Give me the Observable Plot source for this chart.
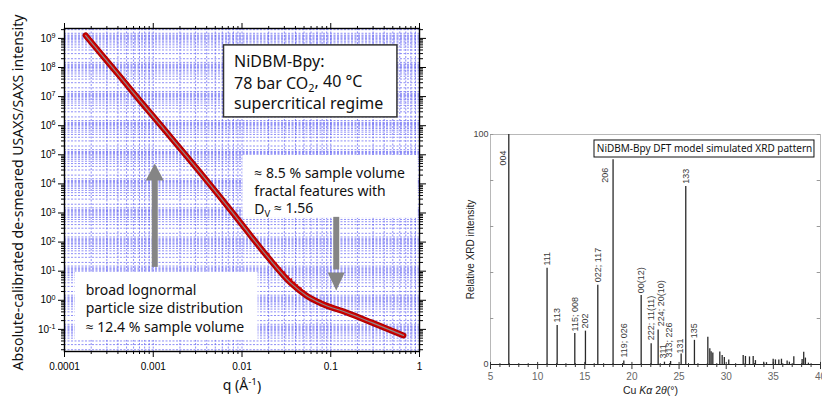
<!DOCTYPE html>
<html><head><meta charset="utf-8">
<script src="https://cdn.jsdelivr.net/npm/d3@7"></script>
<script src="https://cdn.jsdelivr.net/npm/@observablehq/plot@0.6"></script>
<style>
html,body{margin:0;padding:0;background:#fff;}
#wrap{position:relative;width:822px;height:398px;overflow:hidden;background:#fff;}
#left{position:absolute;left:0;top:0;}
#right{position:absolute;left:440px;top:0;}
</style></head><body>
<div id="wrap"><div id="left"></div><div id="right"></div></div>
<script>
// ---------- Left panel: USAXS/SAXS curve ----------
const qValues = [1.73e-4, 2.55e-4, 4.3e-4, 7.2e-4, 1.22e-3, 2.05e-3, 3.44e-3, 5.36e-3, 9.75e-3, 0.0197, 0.0358, 0.0529, 0.0781, 0.150, 0.287, 0.659];
const intensityValues = [1.27e9, 3.05e8, 4.57e7, 6.8e6, 1.02e6, 1.53e5, 2.3e4, 4.35e3, 440, 29.8, 3.81, 1.47, 0.78, 0.38, 0.174, 0.062];
// scatter / error bars in the noisy region
const errQ = [0.020, 0.024, 0.027, 0.030, 0.033, 0.036, 0.039, 0.042, 0.046, 0.050];
const errLow = [22, 11, 7.5, 5, 3.8, 3, 2.4, 2.0, 1.6, 1.35];
const errHigh = [40, 20, 13, 9.5, 6.8, 5.5, 4.2, 3.4, 2.7, 2.1];
const xMajorTicks = [1e-4, 1e-3, 1e-2, 1e-1, 1];
const xTickLabels = ["0.0001", "0.001", "0.01", "0.1", "1"];
const yMajorTicks = [1e-1, 1e0, 1e1, 1e2, 1e3, 1e4, 1e5, 1e6, 1e7, 1e8, 1e9];

// annotation boxes (data coordinates)
const box1 = {x1: 0.00627, x2: 0.564, y1: 1.93e6, y2: 5.75e8};
const box2 = {x1: 0.01026, x2: 0.965, y1: 652, y2: 9.5e4};
const box3 = {x1: 1.33e-4, x2: 0.01517, y1: 0.0419, y2: 9.1};
const box1Lines = ["NiDBM-Bpy:", "78 bar CO_2, 40 °C", "supercritical regime"];
const box1Y = [1.53e8, 2.77e7, 5.7e6];
const box2Lines = ["≈ 8.5 % sample volume", "fractal features with", "D_V ≈ 1.56"];
const box2Y = [2.24e4, 5.52e3, 1.3e3];
const box3Lines = ["broad lognormal", "particle size distribution", "≈ 12.4 % sample volume"];
const box3Y = [2.19, 0.514, 0.12];
const arrowUp = {q: 0.00104, from: 13.5, to: 1.6e4, tip: 5.06e4};
const arrowDown = {q: 0.1153, from: 708, to: 11, tip: 2.19};

// ---------- Right panel: simulated XRD ----------
const peakPos = [6.94, 11.0, 12.07, 13.94, 15.07, 16.38, 18.0, 19.14, 20.98, 22.04, 22.78, 23.45, 24.1, 25.22, 25.71, 26.63, 28.05, 28.26, 28.4, 28.58, 29.32, 29.57, 29.8, 30.27, 31.8, 32.04, 32.47, 32.86, 33.1, 33.98, 34.27, 34.98, 35.22, 35.58, 35.86, 36.46, 36.7, 37.17, 38.05, 38.22, 38.4, 38.72];
const peakHeight = [100, 41.8, 17, 13.5, 14.5, 34.5, 89, 1.5, 30, 9, 15, 1, 1.3, 4.6, 77.4, 10.5, 11.8, 6.8, 5.5, 5, 5.4, 3.9, 3, 2, 3.9, 3.5, 3.3, 3.5, 1.7, 1, 0.8, 2.3, 2, 2, 2.3, 1.5, 1, 3.4, 2.2, 5.3, 2.8, 0.6];
const hklText = ["004", "111", "113", "115; 008", "202", "022; 117", "206", "119; 026", "00(12)", "222; 11(11)", "224; 20(10)", "311", "313; 226", "131", "133", "135"];
const hklX = [6.38, 11.0, 12.07, 14.0, 15.07, 16.38, 17.2, 19.14, 20.98, 22.04, 23.1, 23.32, 23.98, 25.07, 25.75, 26.63];
const hklY = [86.5, 43, 18.3, 14.4, 15.7, 35.8, 79, 3, 31, 10.5, 16.6, 2.6, 3, 4.8, 78.6, 11.4];
const xrdMajorTicks = [5, 10, 15, 20, 25, 30, 35, 40];
const xrdYTicks = [0, 20, 40, 60, 80, 100];
const titleBox = {x1: 16.03, x2: 39.36, y1: 90, y2: 97.4, x: 27.7, y: 93.7, t: "NiDBM-Bpy DFT model simulated XRD pattern"};

// ---------- helpers ----------
const curve = qValues.map((q, i) => ({q, I: intensityValues[i]}));
const errs = errQ.map((q, i) => ({q, lo: errLow[i], hi: errHigh[i]}));
const vGrid = [], xMinor = [];
for (let n = -4; n <= -1; n++) for (let k = 1; k <= 9; k++) {
  const v = k * Math.pow(10, n);
  if (v > 1e-4 && v < 1) vGrid.push(v);
  if (k > 1) xMinor.push(v);
}
const yDomain = [Math.pow(10, -1.76), Math.pow(10, 9.34)];
const hGrid = [], yMinor = [];
for (let n = -2; n <= 9; n++) {
  for (const k of [1, 1.1, 1.2, 1.3, 1.5, 2, 3, 4, 5, 6, 7, 8, 9]) {
    const v = k * Math.pow(10, n);
    if (v > yDomain[0] && v < yDomain[1]) hGrid.push(v);
  }
  for (let k = 2; k <= 9; k++) {
    const v = k * Math.pow(10, n);
    if (v > yDomain[0] && v < yDomain[1]) yMinor.push(v);
  }
}
const upTri = {draw(c) { c.moveTo(0, 0); c.lineTo(-9, 17); c.lineTo(9, 17); c.closePath(); }};
const downTri = {draw(c) { c.moveTo(0, 0); c.lineTo(-8.5, -18); c.lineTo(8.5, -18); c.closePath(); }};
const gridStyle = {stroke: "#5858f2", strokeWidth: 0.8, strokeDasharray: "2,1.5", strokeOpacity: 0.85};
const noteFont = "'Noto Sans', 'Open Sans', sans-serif";
const lines = (arr, ys, x) => arr.map((t, i) => ({t, x, y: ys[i]}));

const left = Plot.plot({
  width: 440, height: 398,
  marginLeft: 64, marginRight: 21, marginTop: 28, marginBottom: 47,
  x: {type: "log", domain: [1e-4, 1]},
  y: {type: "log", domain: yDomain},
  style: {fontFamily: "'Liberation Sans', Arial, sans-serif", fontSize: "10px", background: "transparent", color: "#000"},
  marks: [
    Plot.ruleX(vGrid, {x: d => d, ...gridStyle}),
    Plot.ruleY(hGrid, {y: d => d, ...gridStyle}),
    Plot.rect([box1], {x1: "x1", x2: "x2", y1: "y1", y2: "y2", fill: "white", stroke: "#333", strokeWidth: 1.5}),
    Plot.rect([box2, box3], {x1: "x1", x2: "x2", y1: "y1", y2: "y2", fill: "white"}),
    Plot.text(lines(box1Lines, box1Y, 0.00813), {x: "x", y: "y", text: "t", textAnchor: "start", fontSize: 16, fontFamily: noteFont, fill: "#111"}),
    Plot.text(lines(box2Lines, box2Y, 0.01377), {x: "x", y: "y", text: "t", textAnchor: "start", fontSize: 14, fontFamily: noteFont, fill: "#111"}),
    Plot.text(lines(box3Lines, box3Y, 1.73e-4), {x: "x", y: "y", text: "t", textAnchor: "start", fontSize: 14, fontFamily: noteFont, fill: "#111"}),
    Plot.ruleX([arrowUp, arrowDown], {x: "q", y1: "from", y2: "to", stroke: "#858585", strokeWidth: 6}),
    Plot.dot([arrowUp], {x: "q", y: "tip", symbol: upTri, fill: "#858585", stroke: "none"}),
    Plot.dot([arrowDown], {x: "q", y: "tip", symbol: downTri, fill: "#858585", stroke: "none"}),
    Plot.line(curve, {x: "q", y: "I", stroke: "#a80000", strokeWidth: 6, curve: "monotone-x"}),
    Plot.line(curve, {x: "q", y: "I", stroke: "#d00000", strokeWidth: 4, curve: "monotone-x"}),
    Plot.ruleX(errs, {x: "q", y1: "lo", y2: "hi", stroke: "#d00000", strokeWidth: 1.6}),
    Plot.line(curve, {x: "q", y: "I", stroke: "#8a8a8a", strokeWidth: 1.2, curve: "monotone-x"}),
    Plot.frame({stroke: "#000", strokeWidth: 1.4}),
    Plot.axisX({anchor: "bottom", ticks: xMajorTicks, tickFormat: d => xTickLabels[xMajorTicks.indexOf(d)], tickSize: 6, tickPadding: 5, label: null, fontSize: 10}),
    Plot.axisX({anchor: "bottom", ticks: xMinor, tickFormat: () => "", tickSize: 3, label: null}),
    Plot.axisX({anchor: "top", ticks: xMajorTicks, tickFormat: () => "", tickSize: 6, label: null}),
    Plot.axisX({anchor: "top", ticks: xMinor, tickFormat: () => "", tickSize: 3, label: null}),
    Plot.axisY({anchor: "left", ticks: yMajorTicks, tickFormat: d => "10^" + Math.round(Math.log10(d)), tickSize: 6, tickPadding: 3, label: null, fontSize: 10}),
    Plot.axisY({anchor: "left", ticks: yMinor, tickFormat: () => "", tickSize: 3, label: null}),
    Plot.axisY({anchor: "right", ticks: yMajorTicks, tickFormat: () => "", tickSize: 6, label: null}),
    Plot.axisY({anchor: "right", ticks: yMinor, tickFormat: () => "", tickSize: 3, label: null}),
    Plot.text(["Absolute-calibrated de-smeared USAXS/SAXS intensity"], {text: d => d, frameAnchor: "left", textAnchor: "middle", rotate: -90, dx: -46, dy: 2.5, fontSize: 14, fontFamily: noteFont, fill: "#111"}),
    Plot.text(["q (Å^-1)"], {text: d => d, frameAnchor: "bottom", dy: 38, fontSize: 14, fontFamily: noteFont, fill: "#111"})
  ]
});

const peaks = peakPos.map((p, i) => ({p, h: peakHeight[i]}));
const hkl = hklText.map((t, i) => ({t, x: hklX[i], y: hklY[i]}));
const xrdMinor = [];
for (let v = 6; v < 40; v++) if (v % 5) xrdMinor.push(v);
const xrdFont = "'Liberation Sans', Arial, sans-serif";

const right = Plot.plot({
  width: 382, height: 398,
  marginLeft: 50, marginRight: 2, marginTop: 134, marginBottom: 34,
  x: {domain: [5, 40]},
  y: {domain: [0, 100]},
  style: {fontFamily: xrdFont, fontSize: "10px", background: "transparent", color: "#333"},
  marks: [
    Plot.frame({stroke: "#b8b8b8", strokeWidth: 1}),
    Plot.ruleY(xrdYTicks, {y: d => d, x1: 5, x2: 5.35, stroke: "#999"}),
    Plot.ruleY(xrdYTicks, {y: d => d, x1: 39.65, x2: 40, stroke: "#999"}),
    Plot.rect([titleBox], {x1: "x1", x2: "x2", y1: "y1", y2: "y2", fill: "white", stroke: "#111", strokeWidth: 1}),
    Plot.text([titleBox], {x: "x", y: "y", text: "t", fontSize: 10, fontFamily: noteFont, fill: "#111"}),
    Plot.ruleX(peaks, {x: "p", y1: 0, y2: "h", stroke: "#2a2a2a", strokeWidth: 1.3}),
    Plot.ruleY([0], {stroke: "#222", strokeWidth: 1}),
    Plot.ruleX(xrdMajorTicks, {x: d => d, y1: -2.2, y2: 0.9, stroke: "#333"}),
    Plot.ruleX(xrdMinor, {x: d => d, y1: -1.3, y2: 0.4, stroke: "#333"}),
    Plot.text(hkl, {x: "x", y: "y", text: "t", rotate: -90, textAnchor: "start", fontSize: 9, fill: "#3a3a3a"}),
    Plot.axisX({ticks: xrdMajorTicks, tickSize: 0, tickPadding: 8, fontSize: 10, fill: "#666", label: null}),
    Plot.axisY({ticks: [0, 100], tickSize: 0, tickPadding: 2, fontSize: 9, fill: "#444", label: null}),
    Plot.text(["Relative XRD intensity"], {text: d => d, frameAnchor: "left", textAnchor: "middle", rotate: -90, dx: -20, fontSize: 10, fill: "#222"}),
    Plot.text(["Cu K_a 2_t(°)"], {text: d => d, frameAnchor: "bottom", dy: 29, dx: -5, fontSize: 10.5, fill: "#222"})
  ]
});

function fixTexts(svg) {
  svg.querySelectorAll("text").forEach(t => {
    const s = t.textContent;
    let m;
    if ((m = s.match(/^10\^(-?\d+)$/))) {
      t.innerHTML = `10<tspan dy="-0.5em" font-size="0.72em">${m[1]}</tspan>`;
    } else if (s === "q (Å^-1)") {
      t.innerHTML = `q (Å<tspan dy="-0.45em" font-size="0.7em">-1</tspan><tspan dy="0.45em">)</tspan>`;
    } else if (s === "78 bar CO_2, 40 °C") {
      t.innerHTML = `78 bar CO<tspan dy="0.3em" font-size="0.68em">2</tspan><tspan dy="-0.3em">, 40 °C</tspan>`;
    } else if (s === "D_V ≈ 1.56") {
      t.innerHTML = `D<tspan dy="0.3em" font-size="0.68em">V</tspan><tspan dy="-0.3em"> ≈ 1.56</tspan>`;
    } else if (s === "Cu K_a 2_t(°)") {
      t.innerHTML = `Cu <tspan font-style="italic">Kα</tspan> 2<tspan font-style="italic">θ</tspan>(°)`;
    } else if (s.startsWith("Absolute-calibrated")) {
      t.setAttribute("textLength", "356");
      t.setAttribute("lengthAdjust", "spacingAndGlyphs");
    }
  });
}
fixTexts(left);
fixTexts(right);
document.getElementById("left").appendChild(left);
document.getElementById("right").appendChild(right);
</script>
</body></html>
